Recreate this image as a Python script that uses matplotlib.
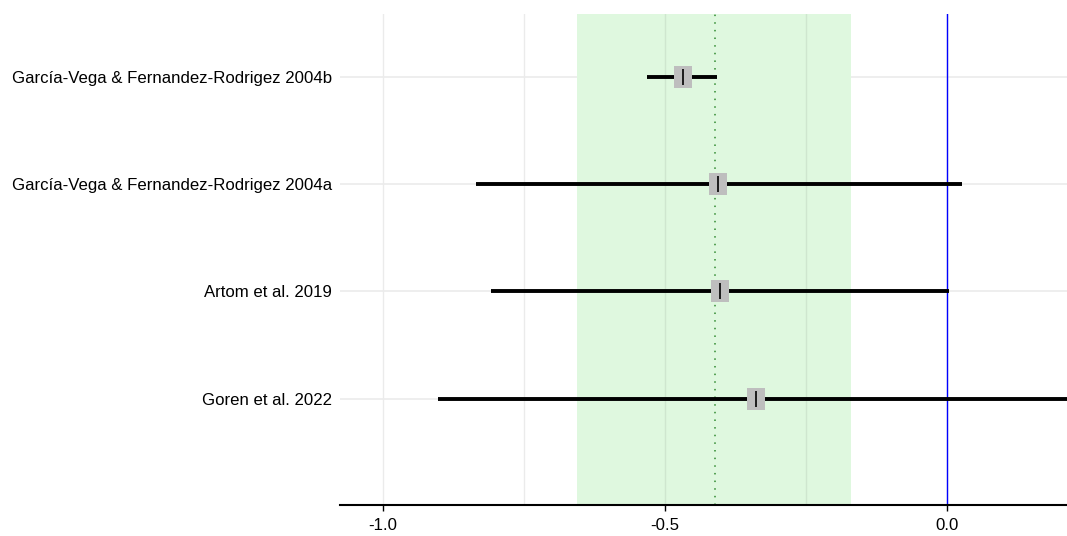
import matplotlib
matplotlib.use("Agg")
import matplotlib.pyplot as plt

# Study-level estimates with 95% confidence intervals
studies = [
    "García-Vega & Fernandez-Rodrigez 2004b",
    "García-Vega & Fernandez-Rodrigez 2004a",
    "Artom et al. 2019",
    "Goren et al. 2022",
]
estimates = [-0.468, -0.405, -0.402, -0.338]
ci_lower = [-0.532, -0.835, -0.809, -0.903]
ci_upper = [-0.408, 0.026, 0.004, 0.227]

# Pooled estimate and its interval
pooled = -0.411
pooled_lower = -0.656
pooled_upper = -0.170

xticks = [-1.0, -0.5, 0.0]
xtick_labels = ["-1.0", "-0.5", "0.0"]

plt.rcParams["font.family"] = ["Liberation Sans", "DejaVu Sans"]

fig = plt.figure(figsize=(10.67, 5.36), dpi=100)
ax = fig.add_axes([340 / 1067, 31 / 536, 1 - 340 / 1067, 491 / 536])

ypos = list(range(len(studies), 0, -1))

ax.set_xlim(-1.076, 0.213)
ax.set_ylim(0.01, 4.586)

# grid
for x in [-1.0, -0.75, -0.5, -0.25, 0.0]:
    ax.axvline(x, color="#ebebeb", lw=1.0, zorder=0)
for y in ypos:
    ax.axhline(y, color="#ebebeb", lw=1.2, zorder=0)

# pooled region and reference lines
ax.axvspan(pooled_lower, pooled_upper, color="#dff8df", zorder=0.5, lw=0)
for x in [-0.75, -0.5, -0.25]:
    if pooled_lower < x < pooled_upper:
        ax.axvline(x, color="#cfe6cf", lw=1.0, zorder=0.6)
ax.axvline(pooled, color="#2f8a2f", lw=1.1, ls=(0, (1, 4)), zorder=1)
ax.axvline(0.0, color="#0000ff", lw=1.0, zorder=1)

# slightly tall square marker for the point estimates
box = [(-0.41, -0.5), (0.41, -0.5), (0.41, 0.5), (-0.41, 0.5), (-0.41, -0.5)]

# study estimates
for y, est, lo, hi in zip(ypos, estimates, ci_lower, ci_upper):
    ax.plot([lo, hi], [y, y], color="black", lw=2.8, zorder=2, solid_capstyle="butt")
    ax.plot(est, y, marker=box, ms=16.5, color="#bebebe", mec="#bebebe", mew=0, zorder=3)
    ax.plot(est, y, marker="|", ms=11.5, mew=1.2, color="black", zorder=4)

ax.set_yticks(ypos)
ax.set_yticklabels(studies, fontsize=12.1)
ax.tick_params(axis="y", length=0, pad=6)

ax.set_xticks(xticks)
ax.set_xticklabels(xtick_labels, fontsize=12.1)
ax.tick_params(axis="x", length=4, width=1, color="black", pad=5)

for side in ["top", "right", "left"]:
    ax.spines[side].set_visible(False)
ax.spines["bottom"].set_color("black")
ax.spines["bottom"].set_linewidth(1.5)

fig.savefig("out.png", dpi=100)
